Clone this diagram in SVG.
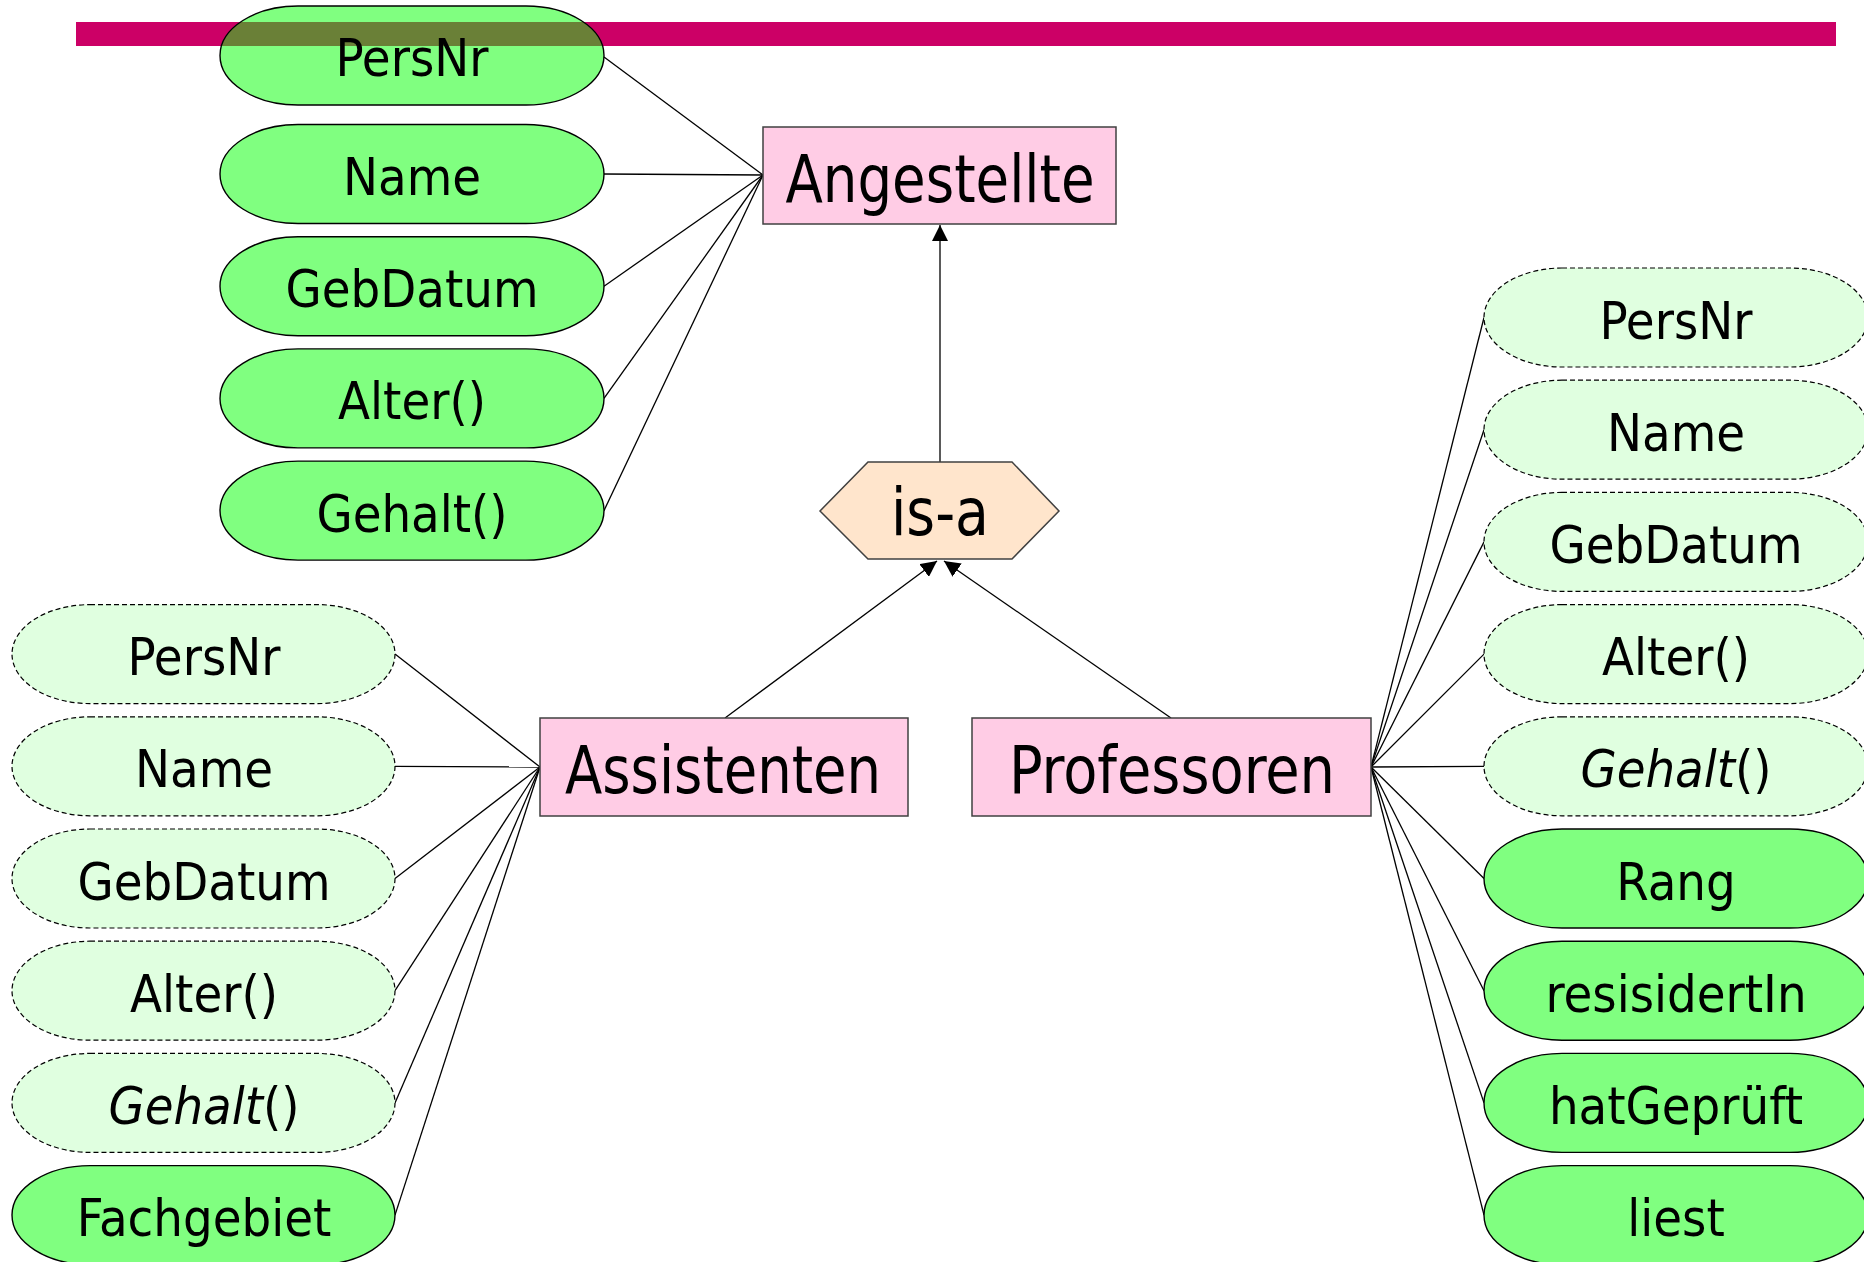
<svg xmlns="http://www.w3.org/2000/svg" width="1864" height="1262" viewBox="0 0 1864 1262">
  <defs>
    <style>
      .entity { fill: #FFCCE5; stroke: #404040; stroke-width: 1.5; }
      .isa { fill: #FFE5CC; stroke: #404040; stroke-width: 1.5; }
      .attr { fill: #80FF80; stroke: #000; stroke-width: 1.4; }
      .inh { fill: #E0FFE0; stroke: #000; stroke-width: 1.2; stroke-dasharray: 5 3; }
      .big { font-family: "DejaVu Sans Condensed", "DejaVu Sans", sans-serif; font-size: 65px; fill: #000; text-anchor: middle; }
      .lbl { font-family: "DejaVu Sans Condensed", "DejaVu Sans", sans-serif; font-size: 52px; fill: #000; text-anchor: middle; }
      .conn line { stroke: #000; stroke-width: 1.3; }
    </style>
    <marker id="arrow" markerUnits="userSpaceOnUse" markerWidth="16" markerHeight="16" refX="16" refY="8" orient="auto">
      <path d="M0,0 L16,8 L0,16 z" fill="#000"/>
    </marker>
    <clipPath id="persnrClip">
      <rect x="220" y="6" width="384" height="99" rx="78" ry="49.5"/>
    </clipPath>
  </defs>

  <!-- title bar -->
  <rect x="76" y="22" width="1760" height="24" fill="#CC0066"/>

  <!-- connectors -->
  <g id="connectors" class="conn">
    <!-- Angestellte attributes -->
    <line x1="604" y1="57" x2="763" y2="175"/>
    <line x1="604" y1="174" x2="763" y2="175"/>
    <line x1="604" y1="286.2" x2="763" y2="175"/>
    <line x1="604" y1="398.4" x2="763" y2="175"/>
    <line x1="604" y1="510.6" x2="763" y2="175"/>
    <!-- Assistenten attributes -->
    <line x1="395" y1="654.1" x2="540" y2="767"/>
    <line x1="395" y1="766.3" x2="540" y2="767"/>
    <line x1="395" y1="878.5" x2="540" y2="767"/>
    <line x1="395" y1="990.7" x2="540" y2="767"/>
    <line x1="395" y1="1102.9" x2="540" y2="767"/>
    <line x1="395" y1="1215.1" x2="540" y2="767"/>
    <!-- Professoren attributes -->
    <line x1="1371" y1="767" x2="1484" y2="317.5"/>
    <line x1="1371" y1="767" x2="1484" y2="429.7"/>
    <line x1="1371" y1="767" x2="1484" y2="541.9"/>
    <line x1="1371" y1="767" x2="1484" y2="654.1"/>
    <line x1="1371" y1="767" x2="1484" y2="766.3"/>
    <line x1="1371" y1="767" x2="1484" y2="878.5"/>
    <line x1="1371" y1="767" x2="1484" y2="990.7"/>
    <line x1="1371" y1="767" x2="1484" y2="1102.9"/>
    <line x1="1371" y1="767" x2="1484" y2="1215.1"/>
    <!-- generalization arrows -->
    <line x1="940" y1="462" x2="940" y2="225" marker-end="url(#arrow)"/>
    <line x1="725" y1="718" x2="937" y2="561" marker-end="url(#arrow)"/>
    <line x1="1171" y1="718" x2="944" y2="561" marker-end="url(#arrow)"/>
  </g>

  <!-- entities -->
  <g id="angestellte">
    <rect class="entity" x="763" y="127" width="353" height="97"/>
    <text class="big" x="940" y="202" textLength="309" lengthAdjust="spacingAndGlyphs">Angestellte</text>
  </g>
  <g id="isa">
    <polygon class="isa" points="820,511 868,462 1012,462 1059,511 1012,559 868,559"/>
    <text class="big" x="940" y="535" textLength="98" lengthAdjust="spacingAndGlyphs">is-a</text>
  </g>
  <g id="assistenten">
    <rect class="entity" x="540" y="718" width="368" height="98"/>
    <text class="big" x="723" y="793" textLength="316" lengthAdjust="spacingAndGlyphs">Assistenten</text>
  </g>
  <g id="professoren">
    <rect class="entity" x="972" y="718" width="399" height="98"/>
    <text class="big" x="1172" y="793" textLength="326" lengthAdjust="spacingAndGlyphs">Professoren</text>
  </g>

  <!-- Angestellte attributes -->
  <g id="a-persnr">
    <rect x="220" y="6" width="384" height="99" rx="78" ry="49.5" fill="#80FF80"/>
    <rect x="76" y="22" width="1760" height="24" fill="#6A8037" clip-path="url(#persnrClip)"/>
    <rect x="220" y="6" width="384" height="99" rx="78" ry="49.5" fill="none" stroke="#000" stroke-width="1.4"/>
    <text class="lbl" x="412" y="76">PersNr</text>
  </g>
  <g id="a-name">
    <rect class="attr" x="220" y="124.5" width="384" height="99" rx="78" ry="49.5"/>
    <text class="lbl" x="412" y="195">Name</text>
  </g>
  <g id="a-gebdatum">
    <rect class="attr" x="220" y="236.7" width="384" height="99" rx="78" ry="49.5"/>
    <text class="lbl" x="412" y="307.2">GebDatum</text>
  </g>
  <g id="a-alter">
    <rect class="attr" x="220" y="348.9" width="384" height="99" rx="78" ry="49.5"/>
    <text class="lbl" x="412" y="419.4">Alter()</text>
  </g>
  <g id="a-gehalt">
    <rect class="attr" x="220" y="461.1" width="384" height="99" rx="78" ry="49.5"/>
    <text class="lbl" x="412" y="531.6">Gehalt()</text>
  </g>

  <!-- Assistenten attributes -->
  <g id="as-persnr">
    <rect class="inh" x="12" y="604.6" width="383" height="99" rx="78" ry="49.5"/>
    <text class="lbl" x="204" y="675.1">PersNr</text>
  </g>
  <g id="as-name">
    <rect class="inh" x="12" y="716.8" width="383" height="99" rx="78" ry="49.5"/>
    <text class="lbl" x="204" y="787.3">Name</text>
  </g>
  <g id="as-gebdatum">
    <rect class="inh" x="12" y="829" width="383" height="99" rx="78" ry="49.5"/>
    <text class="lbl" x="204" y="899.5">GebDatum</text>
  </g>
  <g id="as-alter">
    <rect class="inh" x="12" y="941.2" width="383" height="99" rx="78" ry="49.5"/>
    <text class="lbl" x="204" y="1011.7">Alter()</text>
  </g>
  <g id="as-gehalt">
    <rect class="inh" x="12" y="1053.4" width="383" height="99" rx="78" ry="49.5"/>
    <text class="lbl" x="204" y="1123.9"><tspan font-style="italic">Gehalt</tspan>()</text>
  </g>
  <g id="as-fachgebiet">
    <rect class="attr" x="12" y="1165.6" width="383" height="99" rx="78" ry="49.5"/>
    <text class="lbl" x="204" y="1236.1">Fachgebiet</text>
  </g>

  <!-- Professoren attributes -->
  <g id="pr-persnr">
    <rect class="inh" x="1484" y="268" width="384" height="99" rx="78" ry="49.5"/>
    <text class="lbl" x="1676" y="338.5">PersNr</text>
  </g>
  <g id="pr-name">
    <rect class="inh" x="1484" y="380.2" width="384" height="99" rx="78" ry="49.5"/>
    <text class="lbl" x="1676" y="450.7">Name</text>
  </g>
  <g id="pr-gebdatum">
    <rect class="inh" x="1484" y="492.4" width="384" height="99" rx="78" ry="49.5"/>
    <text class="lbl" x="1676" y="562.9">GebDatum</text>
  </g>
  <g id="pr-alter">
    <rect class="inh" x="1484" y="604.6" width="384" height="99" rx="78" ry="49.5"/>
    <text class="lbl" x="1676" y="675.1">Alter()</text>
  </g>
  <g id="pr-gehalt">
    <rect class="inh" x="1484" y="716.8" width="384" height="99" rx="78" ry="49.5"/>
    <text class="lbl" x="1676" y="787.3"><tspan font-style="italic">Gehalt</tspan>()</text>
  </g>
  <g id="pr-rang">
    <rect class="attr" x="1484" y="829" width="384" height="99" rx="78" ry="49.5"/>
    <text class="lbl" x="1676" y="899.5">Rang</text>
  </g>
  <g id="pr-residiert">
    <rect class="attr" x="1484" y="941.2" width="384" height="99" rx="78" ry="49.5"/>
    <text class="lbl" x="1676" y="1011.7">resisidertIn</text>
  </g>
  <g id="pr-geprueft">
    <rect class="attr" x="1484" y="1053.4" width="384" height="99" rx="78" ry="49.5"/>
    <text class="lbl" x="1676" y="1123.9">hatGeprüft</text>
  </g>
  <g id="pr-liest">
    <rect class="attr" x="1484" y="1165.6" width="384" height="99" rx="78" ry="49.5"/>
    <text class="lbl" x="1676" y="1236.1">liest</text>
  </g>
</svg>
